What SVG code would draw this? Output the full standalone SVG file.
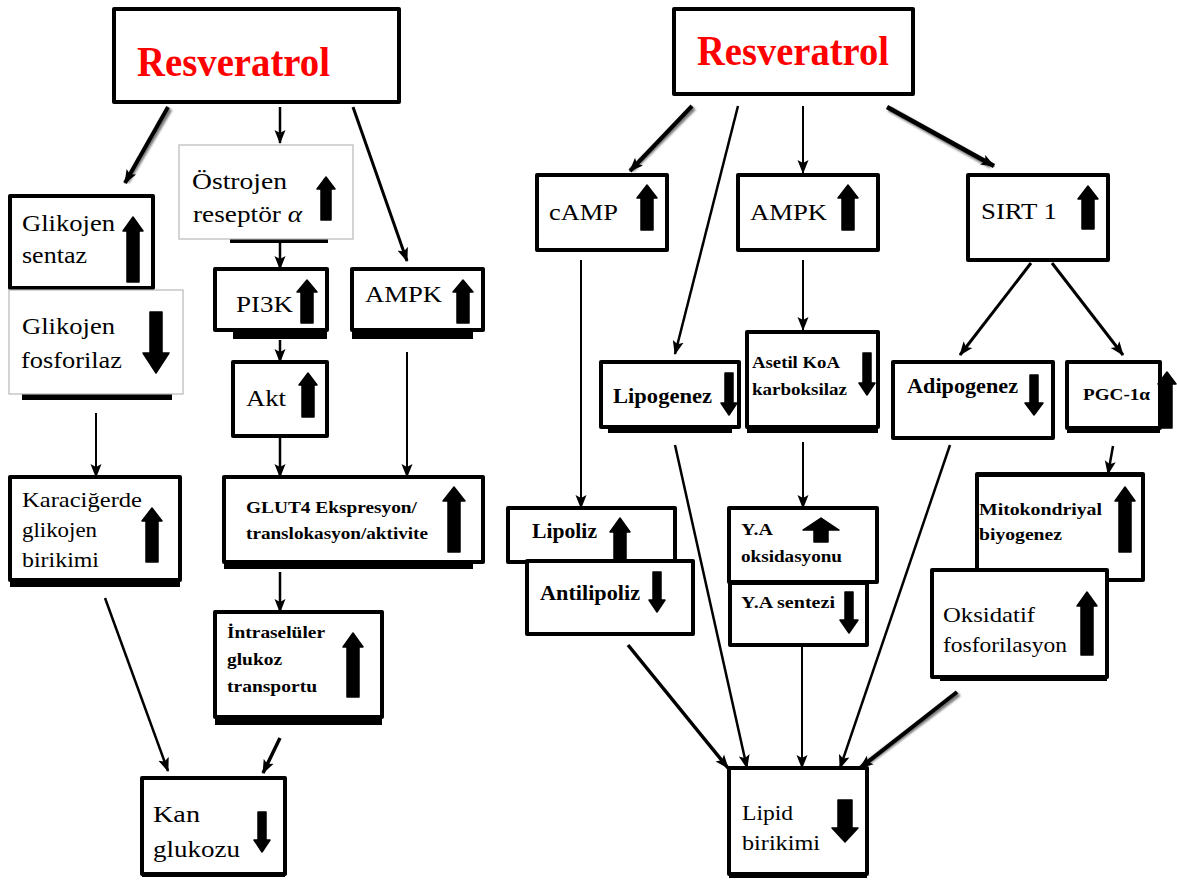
<svg xmlns="http://www.w3.org/2000/svg" width="1177" height="882" viewBox="0 0 1177 882">
<defs>
<marker id="ah" markerUnits="userSpaceOnUse" markerWidth="14" markerHeight="12" refX="13" refY="6" orient="auto">
<path d="M0,0.5 L14,6 L0,11.5 L3,6 Z" fill="#000"/>
</marker>
<filter id="sh" x="-20%" y="-20%" width="140%" height="140%"><feGaussianBlur stdDeviation="1.2"/></filter>
</defs>
<style>
.box{fill:#fff;stroke:#000;stroke-width:4;stroke-linejoin:round}
.thin{fill:#fff;stroke:#b8b8b8;stroke-width:1.2}
.shd{fill:#000}
.t{font-family:"Liberation Serif","Times New Roman",serif;fill:#000}
.b{font-weight:bold}
.res{font-family:"Liberation Serif","Times New Roman",serif;font-weight:bold;fill:#ff0000;font-size:43px}
.ba{fill:#000;stroke:#000;stroke-width:1.5;stroke-linejoin:round}
.c{stroke:#000;fill:none;marker-end:url(#ah);stroke-linecap:butt}
.cs{stroke:#777;fill:none;filter:url(#sh)}
</style>

<g id="connectors">
<line class="cs" x1="170" y1="109" x2="127" y2="182" stroke-width="5"/>
<line class="cs" x1="889" y1="109" x2="991" y2="166" stroke-width="5"/>
<line class="cs" x1="694" y1="108" x2="632" y2="170" stroke-width="5"/>
<line class="cs" x1="959" y1="694" x2="862" y2="767" stroke-width="5"/>
<line class="c" x1="168" y1="107" x2="125" y2="183" stroke-width="4"/>
<line class="c" x1="280" y1="107" x2="280" y2="143" stroke-width="2.5"/>
<line class="c" x1="353" y1="107" x2="407" y2="261" stroke-width="3"/>
<line class="c" x1="280" y1="243" x2="280" y2="269" stroke-width="2.5"/>
<line class="c" x1="280" y1="340" x2="280" y2="362" stroke-width="2.5"/>
<line class="c" x1="280" y1="438" x2="280" y2="477" stroke-width="2.5"/>
<line class="c" x1="407" y1="352" x2="407" y2="477" stroke-width="2"/>
<line class="c" x1="96" y1="413" x2="96" y2="477" stroke-width="2"/>
<line class="c" x1="280" y1="572" x2="280" y2="612" stroke-width="2.5"/>
<line class="c" x1="105" y1="598" x2="168" y2="771" stroke-width="2.5"/>
<line class="c" x1="280" y1="738" x2="263" y2="773" stroke-width="3.5"/>
<line class="c" x1="692" y1="106" x2="630" y2="171" stroke-width="4"/>
<line class="c" x1="738" y1="106" x2="675" y2="354" stroke-width="2.5"/>
<line class="c" x1="803" y1="106" x2="803" y2="173" stroke-width="2"/>
<line class="c" x1="887" y1="107" x2="994" y2="166" stroke-width="4.5"/>
<line class="c" x1="1031" y1="263" x2="960" y2="355" stroke-width="3"/>
<line class="c" x1="1052" y1="263" x2="1123" y2="355" stroke-width="3"/>
<line class="c" x1="581" y1="260" x2="581" y2="508" stroke-width="2"/>
<line class="c" x1="803" y1="260" x2="803" y2="330" stroke-width="2"/>
<line class="c" x1="803" y1="442" x2="803" y2="508" stroke-width="2"/>
<line class="c" x1="1113" y1="446" x2="1108" y2="474" stroke-width="2.5"/>
<line class="c" x1="628" y1="645" x2="728" y2="768" stroke-width="3.5"/>
<line class="c" x1="675" y1="445" x2="747" y2="768" stroke-width="2.5"/>
<line class="c" x1="802" y1="643" x2="802" y2="768" stroke-width="2"/>
<line class="c" x1="950" y1="445" x2="840" y2="768" stroke-width="2.5"/>
<line class="c" x1="957" y1="692" x2="860" y2="768" stroke-width="4"/>
</g>

<!-- LEFT -->
<g id="resveratrol-left">
<rect class="box" x="114" y="9" width="285" height="93" stroke-width="4.5"/>
<text class="res" x="137" y="76" textLength="193" lengthAdjust="spacingAndGlyphs">Resveratrol</text>
</g>
<g id="ostrojen">
<rect class="shd" x="230" y="237" width="98" height="6"/>
<rect class="thin" x="179" y="145" width="174" height="94"/>
<text class="t" font-size="23" x="192" y="189" textLength="95" lengthAdjust="spacingAndGlyphs">Östrojen</text>
<text class="t" font-size="23" x="193" y="222" textLength="109" lengthAdjust="spacingAndGlyphs">reseptör <tspan font-style="italic">α</tspan></text>
<path class="ba" d="M326,177 L335,189 L331,189 L331,220 L321,220 L321,189 L317,189 Z"/>
</g>
<g id="glikojen-sentaz">
<rect class="box" x="10" y="196" width="143" height="92"/>
<text class="t" font-size="24" x="22" y="231" textLength="93" lengthAdjust="spacingAndGlyphs">Glikojen</text>
<text class="t" font-size="24" x="22" y="263" textLength="65" lengthAdjust="spacingAndGlyphs">sentaz</text>
<path class="ba" d="M133,217 L143,231 L139,231 L139,282 L127,282 L127,231 L123,231 Z"/>
</g>
<g id="glikojen-fosforilaz">
<rect class="shd" x="22" y="392" width="150" height="8"/>
<rect class="thin" x="9" y="290" width="174" height="104"/>
<text class="t" font-size="24" x="22" y="334" textLength="93" lengthAdjust="spacingAndGlyphs">Glikojen</text>
<text class="t" font-size="24" x="21" y="368" textLength="101" lengthAdjust="spacingAndGlyphs">fosforilaz</text>
<path class="ba" d="M156,373 L169,353 L162,353 L162,312 L150,312 L150,353 L143,353 Z"/>
</g>
<g id="pi3k">
<rect class="shd" x="233" y="330" width="94" height="9"/>
<rect class="box" x="215" y="269" width="112" height="61"/>
<text class="t" font-size="24" x="236" y="312" textLength="57" lengthAdjust="spacingAndGlyphs">PI3K</text>
<path class="ba" d="M307,280 L317,292 L313,292 L313,323 L301,323 L301,292 L297,292 Z"/>
</g>
<g id="ampk-left">
<rect class="shd" x="352" y="330" width="121" height="9"/>
<rect class="box" x="352" y="269" width="131" height="61"/>
<text class="t" font-size="24" x="365" y="302" textLength="77" lengthAdjust="spacingAndGlyphs">AMPK</text>
<path class="ba" d="M463,280 L473,292 L469,292 L469,323 L457,323 L457,292 L453,292 Z"/>
</g>
<g id="akt">
<rect class="box" x="233" y="362" width="94" height="74"/>
<text class="t" font-size="24" x="246" y="406" textLength="40" lengthAdjust="spacingAndGlyphs">Akt</text>
<path class="ba" d="M308,373 L317,385 L314,385 L314,417 L302,417 L302,385 L299,385 Z"/>
</g>
<g id="glut4">
<rect class="shd" x="224" y="560" width="249" height="9"/>
<rect class="box" x="224" y="477" width="259" height="85"/>
<text class="t b" font-size="17" x="246" y="513" textLength="171" lengthAdjust="spacingAndGlyphs">GLUT4 Ekspresyon/</text>
<text class="t b" font-size="17" x="246" y="539" textLength="182" lengthAdjust="spacingAndGlyphs">translokasyon/aktivite</text>
<path class="ba" d="M454,487 L465,501 L460,501 L460,552 L448,552 L448,501 L443,501 Z"/>
</g>
<g id="karacigerde">
<rect class="shd" x="10" y="579" width="170" height="8"/>
<rect class="box" x="10" y="477" width="170" height="103"/>
<text class="t" font-size="22" x="22" y="507" textLength="120" lengthAdjust="spacingAndGlyphs">Karaciğerde</text>
<text class="t" font-size="22" x="22" y="537" textLength="75" lengthAdjust="spacingAndGlyphs">glikojen</text>
<text class="t" font-size="22" x="22" y="567" textLength="77" lengthAdjust="spacingAndGlyphs">birikimi</text>
<path class="ba" d="M152,508 L162,521 L158,521 L158,562 L146,562 L146,521 L142,521 Z"/>
</g>
<g id="intraseluler">
<rect class="shd" x="215" y="716" width="167" height="9"/>
<rect class="box" x="215" y="612" width="167" height="105"/>
<text class="t b" font-size="17" x="227" y="638" textLength="98" lengthAdjust="spacingAndGlyphs">İntraselüler</text>
<text class="t b" font-size="17" x="227" y="665" textLength="55" lengthAdjust="spacingAndGlyphs">glukoz</text>
<text class="t b" font-size="17" x="227" y="692" textLength="90" lengthAdjust="spacingAndGlyphs">transportu</text>
<path class="ba" d="M353,633 L363,647 L359,647 L359,697 L347,697 L347,647 L343,647 Z"/>
</g>
<g id="kan-glukozu">
<rect class="shd" x="142" y="872" width="143" height="5"/>
<rect class="box" x="142" y="778" width="143" height="96"/>
<text class="t" font-size="23" x="153" y="822" textLength="47" lengthAdjust="spacingAndGlyphs">Kan</text>
<text class="t" font-size="23" x="153" y="857" textLength="87" lengthAdjust="spacingAndGlyphs">glukozu</text>
<path class="ba" d="M262,852 L270,840 L266,840 L266,812 L258,812 L258,840 L254,840 Z"/>
</g>

<!-- RIGHT -->
<g id="resveratrol-right">
<rect class="box" x="674" y="9" width="239" height="85" stroke-width="4.5"/>
<text class="res" x="697" y="65" textLength="192" lengthAdjust="spacingAndGlyphs">Resveratrol</text>
</g>
<g id="camp">
<rect class="box" x="537" y="175" width="130" height="75"/>
<text class="t" font-size="23" x="549" y="220" textLength="69" lengthAdjust="spacingAndGlyphs">cAMP</text>
<path class="ba" d="M647,185 L657,198 L653,198 L653,230 L641,230 L641,198 L637,198 Z"/>
</g>
<g id="ampk-right">
<rect class="box" x="738" y="175" width="140" height="75"/>
<text class="t" font-size="23" x="750" y="220" textLength="77" lengthAdjust="spacingAndGlyphs">AMPK</text>
<path class="ba" d="M848,185 L858,198 L854,198 L854,230 L842,230 L842,198 L838,198 Z"/>
</g>
<g id="sirt1">
<rect class="box" x="968" y="175" width="140" height="85"/>
<text class="t" font-size="23" x="981" y="219" textLength="76" lengthAdjust="spacingAndGlyphs">SIRT 1</text>
<path class="ba" d="M1088,186 L1098,199 L1094,199 L1094,229 L1082,229 L1082,199 L1078,199 Z"/>
</g>
<g id="lipogenez">
<rect class="shd" x="608" y="425" width="124" height="8"/>
<rect class="box" x="601" y="362" width="138" height="65"/>
<text class="t b" font-size="20" x="613" y="403" textLength="99" lengthAdjust="spacingAndGlyphs">Lipogenez</text>
<path class="ba" d="M729,415 L737,403 L733,403 L733,373 L725,373 L725,403 L721,403 Z"/>
</g>
<g id="asetil-koa">
<rect class="shd" x="747" y="425" width="131" height="8"/>
<rect class="box" x="747" y="332" width="131" height="95"/>
<text class="t b" font-size="17" x="752" y="368" textLength="88" lengthAdjust="spacingAndGlyphs">Asetil KoA</text>
<text class="t b" font-size="17" x="752" y="395" textLength="95" lengthAdjust="spacingAndGlyphs">karboksilaz</text>
<path class="ba" d="M867,395 L875,383 L871,383 L871,353 L863,353 L863,383 L859,383 Z"/>
</g>
<g id="adipogenez">
<rect class="box" x="893" y="362" width="160" height="76"/>
<text class="t b" font-size="20" x="907" y="393" textLength="111" lengthAdjust="spacingAndGlyphs">Adipogenez</text>
<path class="ba" d="M1034,415 L1043,403 L1038,403 L1038,375 L1030,375 L1030,403 L1025,403 Z"/>
</g>
<g id="pgc-1a">
<rect class="shd" x="1067" y="426" width="93" height="7"/>
<rect class="box" x="1067" y="362" width="93" height="66"/>
<text class="t b" font-size="17" x="1083" y="400" textLength="67" lengthAdjust="spacingAndGlyphs">PGC-1α</text>
<path class="ba" d="M1167,372 L1176,384 L1172,384 L1172,428 L1162,428 L1162,384 L1158,384 Z"/>
</g>
<g id="lipoliz">
<rect class="box" x="508" y="508" width="167" height="54"/>
<text class="t b" font-size="21" x="532" y="538" textLength="65" lengthAdjust="spacingAndGlyphs">Lipoliz</text>
</g>
<g id="antilipoliz">
<rect class="box" x="527" y="561" width="166" height="73"/>
<text class="t b" font-size="21" x="540" y="600" textLength="100" lengthAdjust="spacingAndGlyphs">Antilipoliz</text>
<path class="ba" d="M657,612 L665,600 L661,600 L661,572 L653,572 L653,600 L649,600 Z"/>
<path class="ba" d="M620,518 L630,532 L626,532 L626,562 L614,562 L614,532 L610,532 Z"/>
</g>
<g id="ya-oksidasyonu">
<rect class="box" x="729" y="508" width="148" height="74"/>
<text class="t b" font-size="17" x="741" y="535" textLength="32" lengthAdjust="spacingAndGlyphs">Y.A</text>
<text class="t b" font-size="17" x="741" y="562" textLength="101" lengthAdjust="spacingAndGlyphs">oksidasyonu</text>
<path class="ba" d="M821,518 L839,530 L828,530 L828,542 L814,542 L814,530 L803,530 Z"/>
</g>
<g id="ya-sentezi">
<rect class="box" x="730" y="583" width="137" height="62"/>
<text class="t b" font-size="17" x="741" y="608" textLength="94" lengthAdjust="spacingAndGlyphs">Y.A sentezi</text>
<path class="ba" d="M849,633 L858,620 L853,620 L853,592 L845,592 L845,620 L840,620 Z"/>
</g>
<g id="mitokondriyal">
<rect class="box" x="977" y="474" width="166" height="106"/>
<rect class="shd" x="977" y="472" width="166" height="5"/>
<text class="t b" font-size="17" x="979" y="515" textLength="123" lengthAdjust="spacingAndGlyphs">Mitokondriyal</text>
<text class="t b" font-size="17" x="979" y="540" textLength="83" lengthAdjust="spacingAndGlyphs">biyogenez</text>
<path class="ba" d="M1125,487 L1135,501 L1131,501 L1131,552 L1119,552 L1119,501 L1115,501 Z"/>
</g>
<g id="oksidatif">
<rect class="shd" x="940" y="675" width="167" height="6"/>
<rect class="box" x="932" y="570" width="175" height="107"/>
<text class="t" font-size="22" x="943" y="622" textLength="92" lengthAdjust="spacingAndGlyphs">Oksidatif</text>
<text class="t" font-size="22" x="943" y="652" textLength="124" lengthAdjust="spacingAndGlyphs">fosforilasyon</text>
<path class="ba" d="M1087,592 L1097,606 L1093,606 L1093,655 L1081,655 L1081,606 L1077,606 Z"/>
</g>
<g id="lipid-birikimi">
<rect class="shd" x="729" y="872" width="138" height="6"/>
<rect class="box" x="729" y="768" width="138" height="106"/>
<text class="t" font-size="22" x="742" y="820" textLength="51" lengthAdjust="spacingAndGlyphs">Lipid</text>
<text class="t" font-size="22" x="742" y="850" textLength="78" lengthAdjust="spacingAndGlyphs">birikimi</text>
<path class="ba" d="M845,842 L858,828 L852,828 L852,800 L838,800 L838,828 L832,828 Z"/>
</g>
</svg>
